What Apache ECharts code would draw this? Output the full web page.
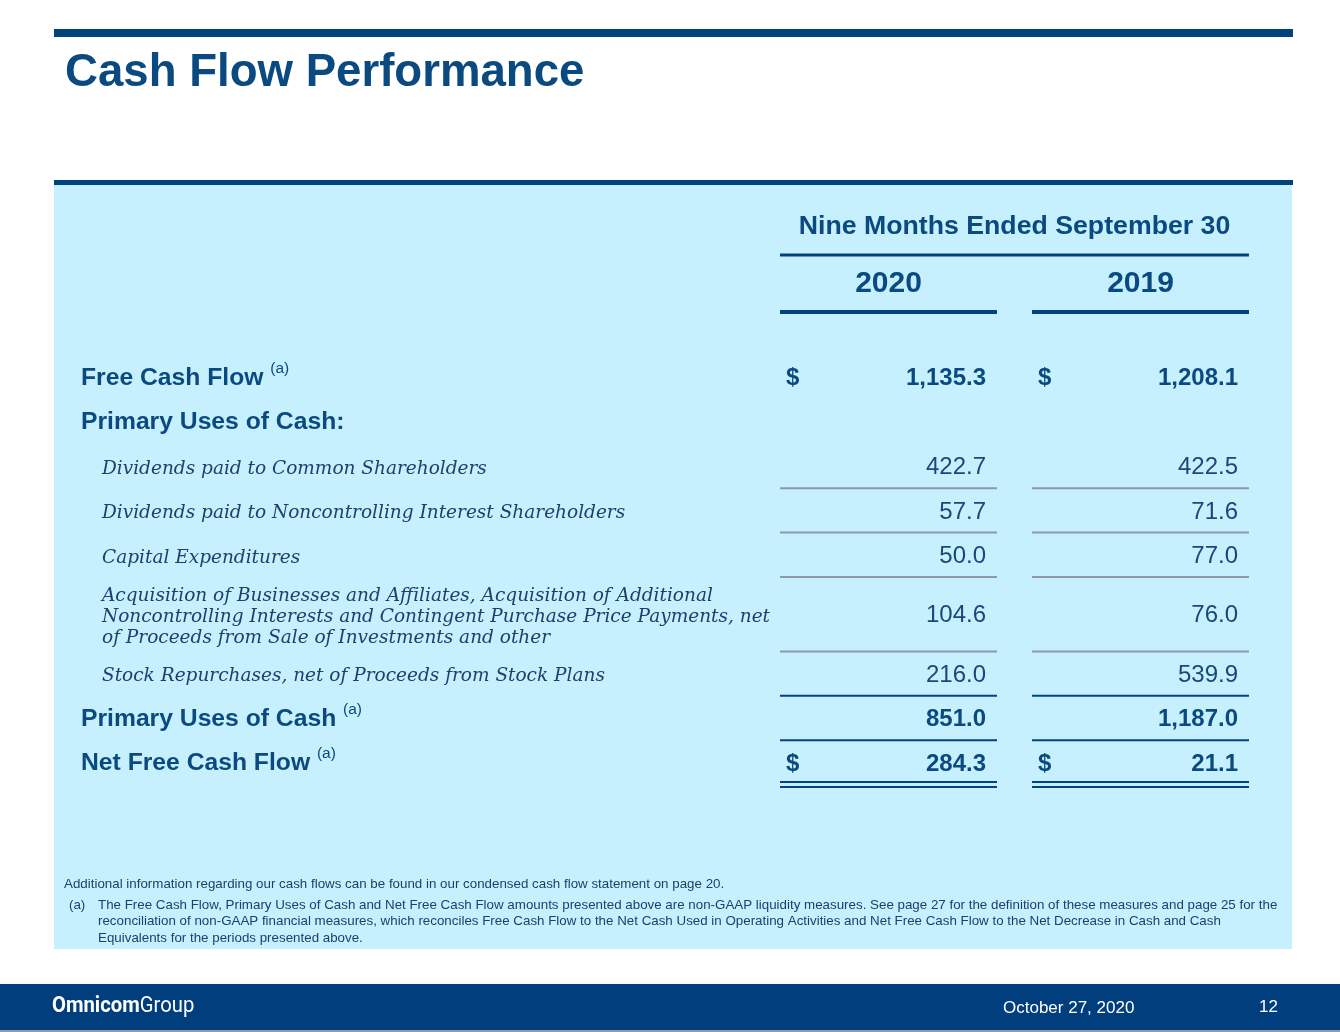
<!DOCTYPE html>
<html><head><meta charset="utf-8">
<script src="https://cdn.jsdelivr.net/npm/echarts@6/dist/echarts.min.js"></script>
<style>html,body{margin:0;padding:0;background:#fff}#c{width:1340px;height:1032px}</style>
</head><body><div id="c"></div>
<script>
// ---- data ----
const titleText = 'Cash Flow Performance';
const periodHeader = 'Nine Months Ended September 30';
const years = ['2020', '2019'];
const rowLabels = [
  'Free Cash Flow',
  'Primary Uses of Cash:',
  'Dividends paid to Common Shareholders',
  'Dividends paid to Noncontrolling Interest Shareholders',
  'Capital Expenditures',
  'Acquisition of Businesses and Affiliates, Acquisition of Additional\nNoncontrolling Interests and Contingent Purchase Price Payments, net\nof Proceeds from Sale of Investments and other',
  'Stock Repurchases, net of Proceeds from Stock Plans',
  'Primary Uses of Cash',
  'Net Free Cash Flow'
];
const rowKinds = ['bold', 'bold', 'item', 'item', 'item', 'item', 'item', 'bold', 'bold'];
const rowNotes = ['(a)', '', '', '', '', '', '', '(a)', '(a)'];
const values2020 = [1135.3, null, 422.7, 57.7, 50.0, 104.6, 216.0, 851.0, 284.3];
const values2019 = [1208.1, null, 422.5, 71.6, 77.0, 76.0, 539.9, 1187.0, 21.1];
const dollarRows = [true, false, false, false, false, false, false, false, true];
const ruleBelow = ['', '', 'gray', 'gray', 'gray', 'gray', 'dark', 'dark', 'double'];
const noteIntro = 'Additional information regarding our cash flows can be found in our condensed cash flow statement on page 20.';
const noteA = [
  'The Free Cash Flow, Primary Uses of Cash and Net Free Cash Flow amounts presented above are non-GAAP liquidity measures. See page 27 for the definition of these measures and page 25 for the',
  'reconciliation of non-GAAP financial measures, which reconciles Free Cash Flow to the Net Cash Used in Operating Activities and Net Free Cash Flow to the Net Decrease in Cash and Cash',
  'Equivalents for the periods presented above.'
];
const footerBrand = ['Omnicom', 'Group'];
const footerDate = 'October 27, 2020';
const pageNo = '12';

// ---- styles / layout ----
const NAVY = '#0b4a80';
const BAR = '#00437f';
const PANEL = '#c6f0fd';
const GRAY = '#8d9aa6';
const SANS = '"Liberation Sans", Arial, sans-serif';
const SERIF = '"DejaVu Serif", serif';
const cols = [[780, 997], [1032, 1249]];
const tableTop = 355, rowH = 44.4, extraLine = 15;

const fmt = v => v.toLocaleString('en-US', {minimumFractionDigits: 1, maximumFractionDigits: 1});
const els = [];
function rect(x, y, w, h, fill) { els.push({type: 'rect', shape: {x, y, width: w, height: h}, style: {fill}, silent: true}); }
function txt(x, y, text, font, fill, align, extra) {
  els.push({type: 'text', x, y, silent: true,
    style: Object.assign({text, font, fill, align: align || 'left', textAlign: align || 'left', verticalAlign: 'middle', textVerticalAlign: 'middle'}, extra || {})});
}

// frame
rect(54, 29, 1239, 8, BAR);
txt(65, 73.5, titleText, 'bold 45.6px ' + SANS, NAVY);
rect(54, 180, 1239, 5, BAR);
rect(54, 185, 1238, 764, PANEL);

// header
txt((cols[0][0] + cols[1][1]) / 2, 226.5, periodHeader, 'bold 26.7px ' + SANS, NAVY, 'center');
rect(cols[0][0], 253.5, cols[1][1] - cols[0][0], 3, BAR);
years.forEach((y, i) => {
  txt((cols[i][0] + cols[i][1]) / 2, 283.5, y, 'bold 30px ' + SANS, NAVY, 'center');
  rect(cols[i][0], 310, cols[i][1] - cols[i][0], 4, BAR);
});

// rows
let rowTop = tableTop;
rowLabels.forEach((label, r) => {
  const lines = label.split('\n').length;
  const h = rowH + (lines - 1) * extraLine;
  const cy = rowTop + h / 2;
  if (rowKinds[r] === 'bold') {
    els.push({type: 'text', x: 81, y: cy - 1.5, silent: true, style: {
      text: '{m|' + label + '}' + (rowNotes[r] ? '{m| }{s|' + rowNotes[r] + '}' : ''),
      align: 'left', verticalAlign: 'middle', textAlign: 'left', textVerticalAlign: 'middle',
      rich: {
        m: {font: 'bold 24.7px ' + SANS, fill: NAVY, lineHeight: 30, verticalAlign: 'bottom'},
        s: {font: 'normal 15.5px ' + SANS, fill: NAVY, lineHeight: 17, verticalAlign: 'top'}
      }}});
  } else {
    txt(102, cy + 3, label, 'italic 18.5px ' + SERIF, '#1f3f6d', 'left', {lineHeight: 21});
  }
  const vals = [values2020[r], values2019[r]];
  vals.forEach((v, i) => {
    if (v === null) return;
    const bold = rowKinds[r] === 'bold';
    txt(cols[i][1] - 11, cy + 1.5, fmt(v), (bold ? 'bold ' : 'normal ') + '24px ' + SANS, bold ? NAVY : '#1a4879', 'right');
    if (dollarRows[r]) txt(cols[i][0] + 6, cy + 1.5, '$', 'bold 24px ' + SANS, NAVY, 'left');
  });
  const bottom = rowTop + h;
  cols.forEach(c => {
    const w = c[1] - c[0];
    if (ruleBelow[r] === 'gray') rect(c[0], bottom - 1, w, 2, GRAY);
    else if (ruleBelow[r] === 'dark') rect(c[0], bottom - 1, w, 2, BAR);
    else if (ruleBelow[r] === 'double') { rect(c[0], bottom - 3.5, w, 2, BAR); rect(c[0], bottom + 1.5, w, 2, BAR); }
  });
  rowTop = bottom;
});

// notes
const NOTE = '#1d3f6b';
const NOTE_FONT = 'normal 13.35px ' + SANS;
txt(64, 884, noteIntro, NOTE_FONT, NOTE);
txt(69, 905, '(a)', NOTE_FONT, NOTE);
noteA.forEach((l, i) => txt(98, 905 + i * 16.5, l, NOTE_FONT, NOTE));

// footer
rect(0, 984, 1340, 46, '#003e7e');
rect(0, 1030, 1340, 2, '#8c9aab');
els.push({type: 'text', x: 52, y: 1006, scaleX: 0.9, silent: true, style: {
  text: '{b|' + footerBrand[0] + '}{r|' + footerBrand[1] + '}', align: 'left', verticalAlign: 'middle', textAlign: 'left', textVerticalAlign: 'middle',
  rich: {b: {font: 'bold 22.5px Roboto, sans-serif', fill: '#fff'}, r: {font: 'normal 22.5px Roboto, sans-serif', fill: '#fff'}}}});
txt(1003, 1008.5, footerDate, 'normal 17px ' + SANS, '#fff');
txt(1278, 1007.5, pageNo, 'normal 17px ' + SANS, '#fff', 'right');

const chart = echarts.init(document.getElementById('c'), null, {renderer: 'canvas'});
chart.setOption({backgroundColor: '#ffffff', animation: false, graphic: {elements: els}});
</script></body></html>
